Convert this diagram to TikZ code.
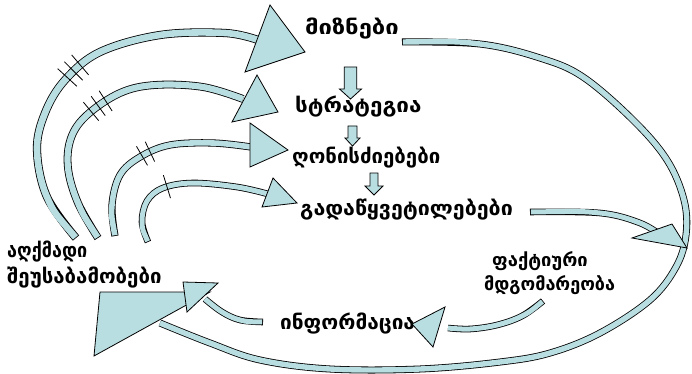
\documentclass[tikz,border=0pt]{standalone}
\usepackage{fontspec}
\setmainfont{DejaVu Sans}
\usetikzlibrary{decorations.markings}
\definecolor{bandfill}{RGB}{185,222,225}

% a curved band: black outline pass, then the light fill pass
\newcommand\drawband[3]{%
  \draw[line width=#2, black] plot[smooth, tension=0.6] coordinates {#3};
  \draw[line width=#1, bandfill, shorten <=0.8pt] plot[smooth, tension=0.6] coordinates {#3};
}
% cross ticks laid on a band at given arc-length positions
\newcommand\ticks[2]{%
  \path[decoration={markings, #1}, decorate] plot[smooth, tension=0.6] coordinates {#2};
}
% block arrow pointing down: centre x, top, head base, tip, shaft half width, head half width
\newcommand\downblock[6]{%
  \draw[headtri] (#1-#5,#2) -- (#1+#5,#2) -- (#1+#5,#3) -- (#1+#6,#3) -- (#1,#4)
    -- (#1-#6,#3) -- (#1-#5,#3) -- cycle;
}
% label text stretched horizontally by the given factor
\newcommand\wide[2]{\scalebox{#1}[1]{#2}}

\begin{document}
\begin{tikzpicture}[x=1pt, y=-1pt, line join=round,
  txt/.style={font=\fontsize{20}{24}\selectfont\bfseries, inner sep=0pt, anchor=base west},
  smalltxt/.style={txt, font=\fontsize{18}{22}\selectfont\bfseries},
  headtri/.style={draw=black, fill=bandfill, line width=0.8pt, line join=miter},
  tick/.style={draw=black, line width=0.8pt}]
\useasboundingbox (0,0) rectangle (692,374);

% labels
\node[txt] (goals) at (305,35) {\wide{1.19}{მიზნები}};
\node[txt] (strategy) at (295,113) {\wide{1.12}{სტრატეგია}};
\node[txt] (measures) at (292,164) {\wide{1.02}{ღონისძიებები}};
\node[txt] (decisions) at (300,215) {\wide{1.07}{გადაწყვეტილებები}};
\node[txt] (gap1) at (7,257) {\wide{0.9}{აღქმადი}};
\node[txt] (gap2) at (7,283) {\wide{1.02}{შეუსაბამობები}};
\node[smalltxt] (actual1) at (492,266) {\wide{1.02}{ფაქტიური}};
\node[smalltxt] (actual2) at (484,290) {\wide{1.0}{მდგომარეობა}};
\node[txt] (info) at (280,329) {\wide{1.04}{ინფორმაცია}};

% feedback arcs from the gaps back to each level
\def\arcA{(76,238) (47,197) (37,150) (45,113) (65,80) (100,52) (160,35) (225,33) (258,40)}
\def\arcB{(98,238) (78,203) (68,168) (71,138) (87,115) (120,93) (155,85) (203,87) (243,99)}
\def\arcC{(115,236) (112,205) (120,175) (140,157) (170,145) (213,143) (251,147)}
\def\arcD{(148,242) (142,222) (147,201) (163,188) (193,183) (237,187) (268,194)}
\drawband{6.6pt}{8.2pt}{\arcA}
\drawband{6.2pt}{7.8pt}{\arcB}
\drawband{5.6pt}{7.2pt}{\arcC}
\drawband{5pt}{6.6pt}{\arcD}
\ticks{mark=at position 179pt with {\draw[tick] (0,-13) -- (0,13);},
       mark=at position 188pt with {\draw[tick] (0,-13) -- (0,13);},
       mark=at position 197pt with {\draw[tick] (0,-13) -- (0,13);}}{\arcA}
\ticks{mark=at position 141pt with {\draw[tick] (0,-12) -- (0,12);},
       mark=at position 150pt with {\draw[tick] (0,-12) -- (0,12);},
       mark=at position 159pt with {\draw[tick] (0,-12) -- (0,12);}}{\arcB}
\ticks{mark=at position 92pt with {\draw[tick] (0,-11) -- (0,11);},
       mark=at position 101pt with {\draw[tick] (0,-11) -- (0,11);}}{\arcC}
\ticks{mark=at position 68pt with {\draw[tick] (0,-12) -- (0,12);}}{\arcD}
\draw[headtri] (270,5) -- (305,52) -- (245,72) -- cycle;
\draw[headtri] (257,75) -- (278,112) -- (232,122) -- cycle;
\draw[headtri] (250,123) -- (288,150) -- (250,167) -- cycle;
\draw[headtri] (273,178) -- (297,203) -- (262,207) -- cycle;

% downward steps between the levels
\downblock{350.5}{67}{89}{99}{6.3}{11}
\downblock{352.5}{126}{138}{146}{4.5}{7.5}
\downblock{374}{173}{186}{195}{4}{9}

% large loop from the goals round to the gaps
\drawband{5.4pt}{7pt}{(402,42) (480,44) (540,58) (583,77) (633,120) (667,160) (684,200)
  (686,235) (676,267) (650,300) (600,333) (550,353) (500,362) (420,369) (330,369)
  (260,360) (210,343) (160,323)}
\draw[headtri] (100,292) -- (94,356) -- (210,292) -- cycle;

% decisions to the loop
\drawband{5pt}{6.6pt}{(530,212) (600,213) (640,223) (662,236)}
\draw[headtri] (632,238) -- (687,248) -- (672,224) -- cycle;

% actual state to information
\drawband{5pt}{6.6pt}{(543,301) (522,316) (497,325) (470,329) (448,328)}
\draw[headtri] (445,307) -- (412,324) -- (433,347) -- cycle;

% information to the gaps
\drawband{5pt}{6.6pt}{(263,322) (240,320) (222,312) (205,299)}
\draw[headtri] (183,282) -- (218,283) -- (187,312) -- cycle;
\end{tikzpicture}
\end{document}
